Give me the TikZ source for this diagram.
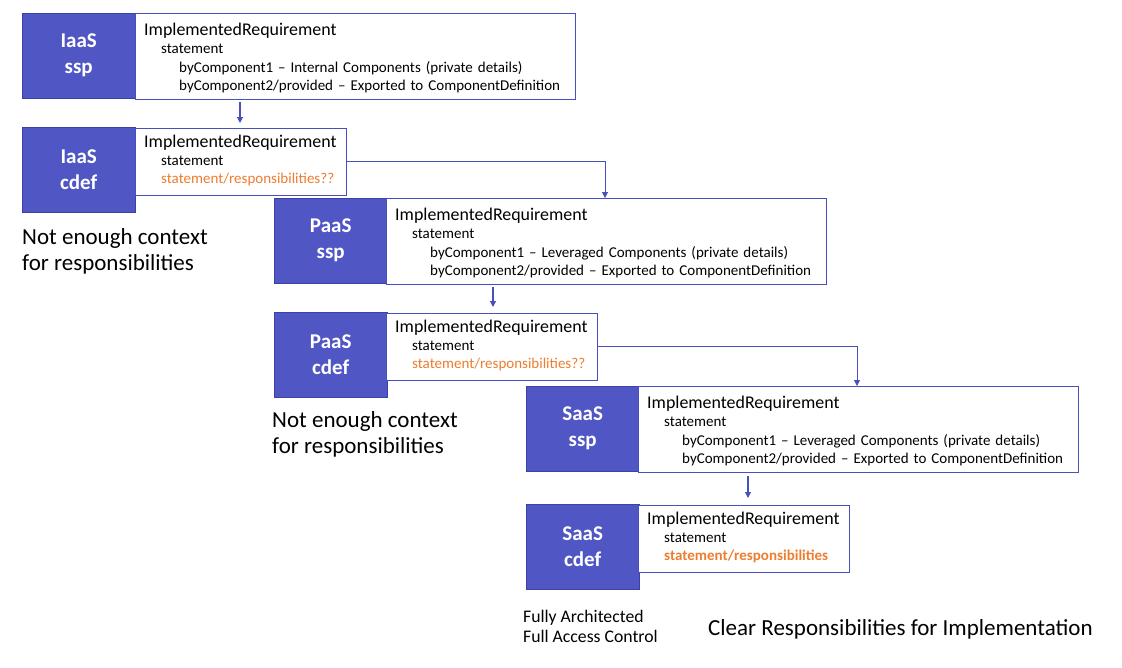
\documentclass[tikz,border=0pt]{standalone}
\usepackage{fontspec}
\setmainfont{Carlito}
\usepackage{tikz}
\usetikzlibrary{arrows.meta,positioning}

\definecolor{tierblue}{RGB}{80,87,196}
\definecolor{tieredge}{RGB}{60,66,165}
\definecolor{linkblue}{RGB}{72,80,192}
\definecolor{respor}{RGB}{237,125,49}

\newcommand{\reqhead}{\hspace*{9pt}\fontsize{17.9}{18.5}\selectfont}
\newcommand{\lvlone}{\hspace*{26pt}}
\newcommand{\lvltwo}{\hspace*{44pt}}

\begin{document}
\begin{tikzpicture}[x=1pt,y=-1pt,
  tier/.style={draw=tieredge,fill=tierblue,rectangle,anchor=north west,inner sep=0pt,
               minimum width=113pt,minimum height=85pt,text=white,align=center,
               font=\fontsize{21}{26}\selectfont\bfseries},
  sspreq/.style={draw=linkblue,fill=white,rectangle,anchor=north west,inner sep=0pt,
               text width=440pt,text height=22pt,text depth=64pt,align=left,
               font=\fontsize{15}{18.5}\selectfont},
  cdefreq/.style={draw=linkblue,fill=white,rectangle,anchor=north west,inner sep=0pt,
               text width=211pt,text height=19pt,text depth=48pt,align=left,
               font=\fontsize{15}{18}\selectfont},
  note/.style={anchor=base west,align=left,inner sep=0pt,font=\fontsize{23}{26}\selectfont},
  small/.style={anchor=base west,align=left,inner sep=0pt,font=\fontsize{17.7}{20}\selectfont},
  arr/.style={-{Triangle[length=6pt,width=6pt]},draw=linkblue,line width=1.1pt},
  link/.style={-{Triangle[length=6pt,width=6pt]},draw=linkblue,line width=0.8pt}
]
\useasboundingbox (0,0) rectangle (1122,667);

% IaaS
\node[tier] (iaasssp) at (22,13) {IaaS\\ssp};
\node[sspreq] (iaasreq) at (135,13) {{\reqhead ImplementedRequirement}\\
  \lvlone statement\\
  \lvltwo byComponent1 -- Internal Components (private details)\\
  \lvltwo byComponent2/provided -- Exported to ComponentDefinition};
\node[tier] (iaascdef) at (22,127) {IaaS\\cdef};
\node[cdefreq] (iaasresp) at (135,128) {{\reqhead ImplementedRequirement}\\
  \lvlone statement\\
  \lvlone\textcolor{respor}{statement/responsibilities??}};
\node[note] (iaasnote) at (22,270) {Not enough context\\for responsibilities};

% PaaS
\node[tier] (paasssp) at (274,198) {PaaS\\ssp};
\node[sspreq] (paasreq) at (386,198) {{\reqhead ImplementedRequirement}\\
  \lvlone statement\\
  \lvltwo byComponent1 -- Leveraged Components (private details)\\
  \lvltwo byComponent2/provided -- Exported to ComponentDefinition};
\node[tier] (paascdef) at (274,312) {PaaS\\cdef};
\node[cdefreq] (paasresp) at (386,313) {{\reqhead ImplementedRequirement}\\
  \lvlone statement\\
  \lvlone\textcolor{respor}{statement/responsibilities??}};
\node[note] (paasnote) at (272,453) {Not enough context\\for responsibilities};

% SaaS
\node[tier] (saasssp) at (526,386) {SaaS\\ssp};
\node[sspreq] (saasreq) at (638,386) {{\reqhead ImplementedRequirement}\\
  \lvlone statement\\
  \lvltwo byComponent1 -- Leveraged Components (private details)\\
  \lvltwo byComponent2/provided -- Exported to ComponentDefinition};
\node[tier] (saascdef) at (526,504) {SaaS\\cdef};
\node[cdefreq] (saasresp) at (638,505) {{\reqhead ImplementedRequirement}\\
  \lvlone statement\\
  \lvlone\textcolor{respor}{\bfseries statement/responsibilities}};
\node[small] (saasnote) at (523,642) {Fully Architected\\Full Access Control};
\node[note] (clearnote) at (708,635) {Clear Responsibilities for Implementation};

% ssp -> cdef
\coordinate (iaasdrop) at (240,0);
\coordinate (paasdrop) at (493,0);
\coordinate (saasdrop) at (748,0);
\draw[arr] ([yshift=-3pt]iaasreq.south -| iaasdrop) -- ([yshift=5pt]iaasresp.north -| iaasdrop);
\draw[arr] ([yshift=-3pt]paasreq.south -| paasdrop) -- ([yshift=6pt]paasresp.north -| paasdrop);
\draw[arr] ([yshift=-4pt]saasreq.south -| saasdrop) -- ([yshift=7pt]saasresp.north -| saasdrop);

% cdef -> next ssp
\draw[link] (iaasresp.east) -| ([xshift=219pt]paasreq.north west);
\draw[link] (paasresp.east) -| ([xshift=219pt]saasreq.north west);

\end{tikzpicture}
\end{document}
